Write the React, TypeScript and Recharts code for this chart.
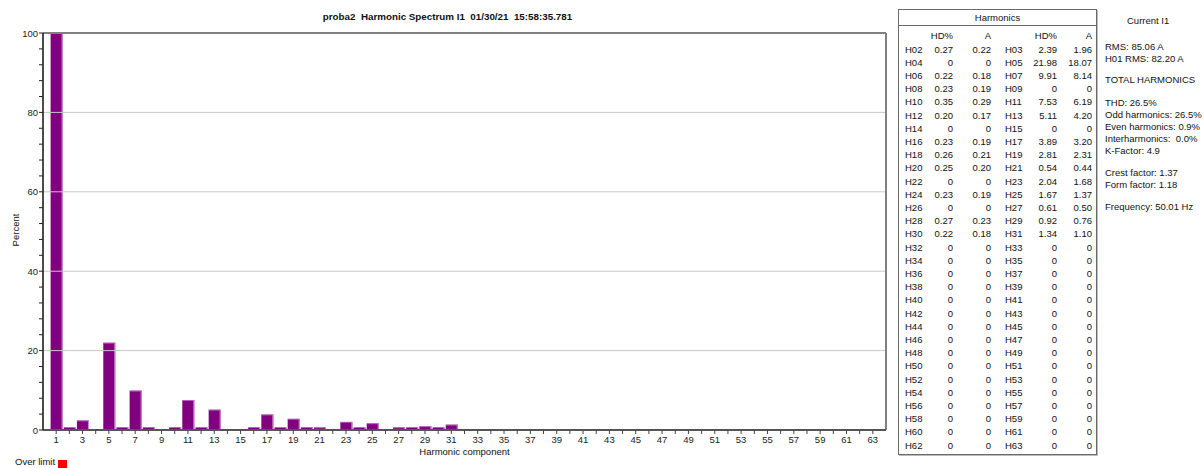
import React from "react";
import { BarChart, Bar, XAxis, YAxis, ReferenceLine } from "recharts";

const harmonicOrders = [
  1, 2, 3, 4, 5, 6, 7, 8, 9, 10, 11, 12, 13, 14, 15, 16, 17, 18, 19, 20, 21,
  22, 23, 24, 25, 26, 27, 28, 29, 30, 31, 32, 33, 34, 35, 36, 37, 38, 39, 40,
  41, 42, 43, 44, 45, 46, 47, 48, 49, 50, 51, 52, 53, 54, 55, 56, 57, 58, 59,
  60, 61, 62, 63,
];

// HD% per harmonic (H01 = 100 %)
const hdPercent = [
  100, 0.27, 2.39, 0, 21.98, 0.22, 9.91, 0.23, 0, 0.35, 7.53, 0.2, 5.11, 0, 0,
  0.23, 3.89, 0.26, 2.81, 0.25, 0.54, 0, 2.04, 0.23, 1.67, 0, 0.61, 0.27, 0.92,
  0.22, 1.34, 0, 0, 0, 0, 0, 0, 0, 0, 0, 0, 0, 0, 0, 0, 0, 0, 0, 0, 0, 0, 0, 0,
  0, 0, 0, 0, 0, 0, 0, 0, 0, 0,
];

// Amperes per harmonic
const amps = [
  82.2, 0.22, 1.96, 0, 18.07, 0.18, 8.14, 0.19, 0, 0.29, 6.19, 0.17, 4.2, 0, 0,
  0.19, 3.2, 0.21, 2.31, 0.2, 0.44, 0, 1.68, 0.19, 1.37, 0, 0.5, 0.23, 0.76,
  0.18, 1.1, 0, 0, 0, 0, 0, 0, 0, 0, 0, 0, 0, 0, 0, 0, 0, 0, 0, 0, 0, 0, 0, 0,
  0, 0, 0, 0, 0, 0, 0, 0, 0, 0,
];

const yTicks = [
  0, 4, 8, 12, 16, 20, 24, 28, 32, 36, 40, 44, 48, 52, 56, 60, 64, 68, 72, 76,
  80, 84, 88, 92, 96, 100,
];
const yLabeledTicks = [0, 20, 40, 60, 80, 100];
const gridValues = [20, 40, 60, 80];

const titleText = "proba2  Harmonic Spectrum I1  01/30/21  15:58:35.781";

const infoLines = [
  { text: "RMS: 85.06 A", y: 46 },
  { text: "H01 RMS: 82.20 A", y: 58 },
  { text: "TOTAL HARMONICS", y: 79 },
  { text: "THD: 26.5%", y: 102 },
  { text: "Odd harmonics: 26.5%", y: 114 },
  { text: "Even harmonics: 0.9%", y: 126 },
  { text: "Interharmonics:  0.0%", y: 138 },
  { text: "K-Factor: 4.9", y: 150 },
  { text: "Crest factor: 1.37", y: 172 },
  { text: "Form factor: 1.18", y: 184 },
  { text: "Frequency: 50.01 Hz", y: 206 },
];

const data = harmonicOrders.map((h, i) => ({ h, pct: hdPercent[i] }));

const FONT = "'Liberation Sans', Arial, sans-serif";

const fmt = (v: number) => (v === 0 ? "0" : v.toFixed(2));
const pad = (n: number) => "H" + (n < 10 ? "0" + n : String(n));

const BarShape = (props: any) => {
  const { x, y, width, height } = props;
  if (!height || height <= 0) return <g />;
  // tiny values stay visible just above the axis line, as in the instrument view
  const h = Math.max(height, 2.6);
  const top = y + height - h;
  return (
    <g>
      <rect x={x} y={top} width={width} height={h} fill="#800080" />
      <rect x={x + width - 1} y={top} width={1} height={h} fill="#d28fd2" />
      {height > 2 && (
        <rect x={x} y={top} width={width} height={0.8} fill="#c070c0" />
      )}
    </g>
  );
};

const XTick = (props: any) => {
  const { x, y, payload } = props;
  const v = payload.value;
  if (v % 2 === 0) return <g />;
  return (
    <text
      x={x}
      y={y + 7}
      textAnchor="middle"
      fontSize={9.5}
      fontFamily={FONT}
      fill="#222"
    >
      {v}
    </text>
  );
};

const YTick = (props: any) => {
  const { x, y, payload } = props;
  const v = payload.value;
  if (!yLabeledTicks.includes(v)) return <g />;
  return (
    <text
      x={x}
      y={y + 3.5}
      textAnchor="end"
      fontSize={9.5}
      fontFamily={FONT}
      fill="#222"
    >
      {v}
    </text>
  );
};

const abs = (extra: React.CSSProperties): React.CSSProperties => ({
  position: "absolute",
  whiteSpace: "pre",
  fontFamily: FONT,
  fontSize: 9.5,
  color: "#111",
  lineHeight: "13px",
  height: 13,
  ...extra,
});

const HarmonicsTable = () => {
  const rows: React.ReactNode[] = [];
  for (let i = 0; i < 31; i++) {
    const even = 2 + 2 * i;
    const odd = 3 + 2 * i;
    const cy = 49 + i * 13.2;
    const top = cy - 6.5;
    rows.push(
      <React.Fragment key={i}>
        <div style={abs({ left: 905, top })}>{pad(even)}</div>
        <div style={abs({ left: 903, width: 50, top, textAlign: "right" })}>
          {fmt(hdPercent[even - 1])}
        </div>
        <div style={abs({ left: 941, width: 50, top, textAlign: "right" })}>
          {fmt(amps[even - 1])}
        </div>
        <div style={abs({ left: 1005, top })}>{pad(odd)}</div>
        <div style={abs({ left: 1007, width: 50, top, textAlign: "right" })}>
          {fmt(hdPercent[odd - 1])}
        </div>
        <div style={abs({ left: 1042, width: 50, top, textAlign: "right" })}>
          {fmt(amps[odd - 1])}
        </div>
      </React.Fragment>
    );
  }
  return (
    <>
      <div
        style={{
          position: "absolute",
          left: 898,
          top: 9,
          width: 197,
          height: 444,
          border: "1px solid #6a6a6a",
          boxShadow: "1px 1px 0 #bbb",
        }}
      />
      <div
        style={{
          position: "absolute",
          left: 899,
          top: 25,
          width: 197,
          height: 0,
          borderTop: "1px solid #6a6a6a",
        }}
      />
      <div style={abs({ left: 899, width: 197, top: 11, textAlign: "center" })}>
        Harmonics
      </div>
      <div style={abs({ left: 903, width: 50, top: 29, textAlign: "right" })}>
        HD%
      </div>
      <div style={abs({ left: 941, width: 50, top: 29, textAlign: "right" })}>
        A
      </div>
      <div style={abs({ left: 1007, width: 50, top: 29, textAlign: "right" })}>
        HD%
      </div>
      <div style={abs({ left: 1042, width: 50, top: 29, textAlign: "right" })}>
        A
      </div>
      {rows}
    </>
  );
};

export default function App() {
  return (
    <div
      style={{
        position: "absolute",
        left: 0,
        top: 0,
        width: 1204,
        height: 468,
        background: "#fff",
        overflow: "hidden",
        fontFamily: FONT,
      }}
    >
      <div style={{ position: "absolute", left: 0, top: 0 }}>
        <BarChart
          width={892}
          height={468}
          data={data}
          margin={{ top: 33, right: 6, bottom: 0, left: 0 }}
          barGap={0}
        >
          {gridValues.map((g) => (
            <ReferenceLine key={g} y={g} stroke="#c8c8c8" strokeWidth={1} />
          ))}
          <XAxis
            type="number"
            dataKey="h"
            domain={[0, 64]}
            ticks={harmonicOrders}
            interval={0}
            allowDataOverflow
            height={38}
            tickSize={4}
            tick={<XTick />}
            axisLine={{ stroke: "#555", strokeWidth: 2 }}
            tickLine={{ stroke: "#444" }}
          />
          <YAxis
            type="number"
            domain={[0, 100]}
            ticks={yTicks}
            interval={0}
            width={43}
            tickSize={4}
            tickMargin={1}
            tick={<YTick />}
            axisLine={{ stroke: "#111", strokeWidth: 1.5 }}
            tickLine={{ stroke: "#222" }}
          />
          <ReferenceLine y={100} stroke="#808080" strokeWidth={2} />
          <ReferenceLine x={64} stroke="#808080" strokeWidth={2} />
          <Bar
            dataKey="pct"
            barSize={12}
            shape={<BarShape />}
            isAnimationActive={false}
          />
        </BarChart>
      </div>

      <div
        style={{
          position: "absolute",
          left: 0,
          width: 895,
          top: 11,
          textAlign: "center",
          fontWeight: "bold",
          fontSize: 9.8,
          color: "#111",
          whiteSpace: "pre",
        }}
      >
        {titleText}
      </div>

      <div
        style={{
          position: "absolute",
          left: 15,
          top: 230,
          transform: "translate(-50%, -50%) rotate(-90deg)",
          fontSize: 9.5,
          color: "#111",
          whiteSpace: "pre",
        }}
      >
        Percent
      </div>

      <div
        style={{
          position: "absolute",
          left: 43,
          width: 843,
          top: 446,
          textAlign: "center",
          fontSize: 9.5,
          color: "#111",
        }}
      >
        Harmonic component
      </div>

      <div
        style={{
          position: "absolute",
          left: 15,
          top: 457,
          fontSize: 9.5,
          lineHeight: "10px",
          height: 10,
          color: "#111",
          whiteSpace: "pre",
        }}
      >
        Over limit
      </div>
      <div
        style={{
          position: "absolute",
          left: 58,
          top: 460,
          width: 9,
          height: 8,
          background: "#ff0000",
        }}
      />

      <HarmonicsTable />

      <div style={abs({ left: 1127, top: 14 })}>Current I1</div>
      {infoLines.map((l) => (
        <div key={l.text} style={abs({ left: 1105, top: l.y - 6.5 })}>
          {l.text}
        </div>
      ))}
    </div>
  );
}
